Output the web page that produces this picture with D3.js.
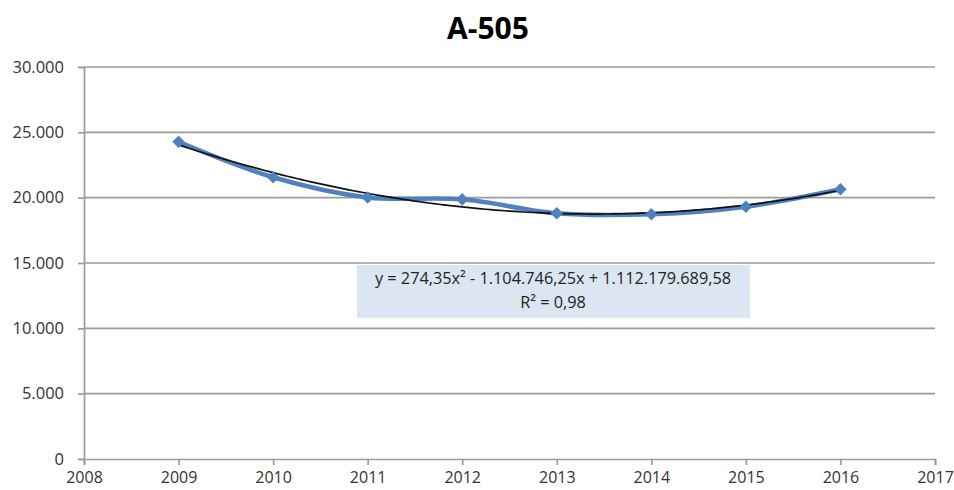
<!DOCTYPE html>
<html>
<head>
<meta charset="utf-8">
<script src="https://cdn.jsdelivr.net/npm/d3@7"></script>
<style>
  html, body { margin: 0; padding: 0; background: #fff; }
  svg { display: block; }
</style>
</head>
<body>
<svg id="chart" width="954" height="490"></svg>
<script>
// Yearly values for A-505
const years = [2009, 2010, 2011, 2012, 2013, 2014, 2015, 2016];
const values = [24280, 21560, 20020, 19870, 18800, 18730, 19310, 20640];

const yTicks = [0, 5000, 10000, 15000, 20000, 25000, 30000];
const xTicks = [2008, 2009, 2010, 2011, 2012, 2013, 2014, 2015, 2016, 2017];

const chartTitle = "A-505";
const equationLines = ["y = 274,35x² - 1.104.746,25x + 1.112.179.689,58", "R² = 0,98"];

const svg = d3.select("#chart");
const margin = { left: 84, right: 19, top: 67, bottom: 31 };
const W = 954, H = 490;

const x = d3.scaleLinear().domain([2008, 2017]).range([margin.left, W - margin.right]);
const y = d3.scaleLinear().domain([0, 30000]).range([H - margin.bottom, margin.top]);

const fmt = d3.formatLocale({ decimal: ",", thousands: ".", grouping: [3], currency: ["", "€"] }).format(",d");

const font = "'Open Sans', 'Liberation Sans', sans-serif";
const gridColor = "#9c9c9c";
const labelColor = "#333";

// Horizontal gridlines
svg.append("g")
  .selectAll("line")
  .data(yTicks.filter(d => d > 0))
  .join("line")
  .attr("x1", x(2008)).attr("x2", x(2017))
  .attr("y1", d => y(d)).attr("y2", d => y(d))
  .attr("stroke", gridColor).attr("stroke-width", 1.7);

// Y axis
const yAxis = svg.append("g")
  .attr("transform", `translate(${x(2008)},0)`)
  .call(d3.axisLeft(y).tickValues(yTicks).tickFormat(fmt).tickSize(6).tickPadding(14));
yAxis.select(".domain").attr("stroke", gridColor).attr("stroke-width", 1.7);
yAxis.selectAll(".tick line").attr("stroke", gridColor).attr("stroke-width", 1.7);
yAxis.selectAll("text").attr("font-family", font).attr("font-size", 16.5).attr("fill", labelColor);

// X axis
const xAxis = svg.append("g")
  .attr("transform", `translate(0,${y(0)})`)
  .call(d3.axisBottom(x).tickValues(xTicks).tickFormat(d3.format("d")).tickSizeInner(6).tickSizeOuter(6).tickPadding(7));
xAxis.select(".domain").attr("stroke", gridColor).attr("stroke-width", 1.7);
xAxis.selectAll(".tick line").attr("stroke", gridColor).attr("stroke-width", 1.7);
xAxis.selectAll("text").attr("font-family", font).attr("font-size", 16).attr("fill", labelColor);

// Title
svg.append("text")
  .attr("x", 488).attr("y", 39)
  .attr("text-anchor", "middle")
  .attr("font-family", font).attr("font-weight", "bold").attr("font-size", 30)
  .attr("fill", "#000")
  .text(chartTitle);

// Data series, smoothed
const data = years.map((yr, i) => ({ yr, v: values[i] }));
const blue = "#4f81bd";
svg.append("path")
  .datum(data)
  .attr("fill", "none")
  .attr("stroke", blue)
  .attr("stroke-width", 4.5)
  .attr("stroke-linejoin", "round")
  .attr("d", d3.line().x(d => x(d.yr)).y(d => y(d.v)).curve(d3.curveCatmullRom.alpha(0.5)));

// Polynomial (order 2) least-squares trend line, centred on the mean year
const xm = d3.mean(years);
function fitQuadratic(xs, ys) {
  let S = [0, 0, 0, 0, 0], T = [0, 0, 0];
  xs.forEach((xv, i) => {
    const t = xv - xm;
    for (let k = 0; k < 5; k++) S[k] += Math.pow(t, k);
    for (let k = 0; k < 3; k++) T[k] += ys[i] * Math.pow(t, k);
  });
  const A = [[S[0], S[1], S[2], T[0]], [S[1], S[2], S[3], T[1]], [S[2], S[3], S[4], T[2]]];
  for (let c = 0; c < 3; c++) {
    for (let r = c + 1; r < 3; r++) {
      const f = A[r][c] / A[c][c];
      for (let k = c; k < 4; k++) A[r][k] -= f * A[c][k];
    }
  }
  const sol = [0, 0, 0];
  for (let r = 2; r >= 0; r--) {
    let s = A[r][3];
    for (let k = r + 1; k < 3; k++) s -= A[r][k] * sol[k];
    sol[r] = s / A[r][r];
  }
  return sol;
}
const coef = fitQuadratic(years, values);
const trendX = d3.range(0, 141).map(i => years[0] + i * (years[years.length - 1] - years[0]) / 140);
svg.append("path")
  .datum(trendX)
  .attr("fill", "none")
  .attr("stroke", "#111")
  .attr("stroke-width", 1.7)
  .attr("d", d3.line()
    .x(d => x(d))
    .y(d => { const t = d - xm; return y(coef[0] + coef[1] * t + coef[2] * t * t); }));

// Diamond markers
svg.append("g")
  .selectAll("path")
  .data(data)
  .join("path")
  .attr("transform", d => `translate(${x(d.yr)},${y(d.v)})`)
  .attr("d", d3.symbol().type(d3.symbolDiamond2).size(100))
  .attr("fill", blue);

// Equation label box
const box = svg.append("g");
box.append("rect")
  .attr("x", 357).attr("y", 265).attr("width", 393).attr("height", 53)
  .attr("fill", "#dce6f2");
box.selectAll("text")
  .data(equationLines)
  .join("text")
  .attr("x", 553)
  .attr("y", (d, i) => 284 + i * 24)
  .attr("text-anchor", "middle")
  .attr("font-family", font).attr("font-size", 16.3)
  .attr("fill", "#222")
  .text(d => d);
</script>
</body>
</html>
